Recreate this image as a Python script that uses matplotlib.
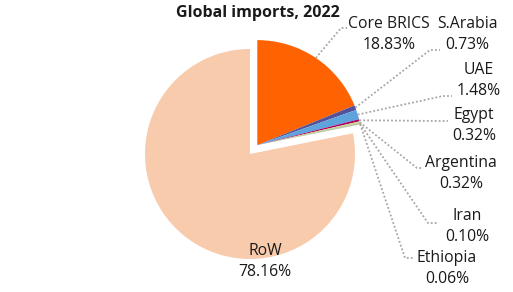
import matplotlib
matplotlib.use("Agg")
import matplotlib.pyplot as plt
import numpy as np

labels = ["Core BRICS", "S.Arabia", "UAE", "Egypt", "Argentina", "Iran", "Ethiopia", "RoW"]
shares = [18.83, 0.73, 1.48, 0.32, 0.32, 0.10, 0.06, 78.16]
colors = ["#FF6200", "#525199", "#5FA3DD", "#AB0066", "#C8D48C", "#9A9A9A", "#A8D08D", "#F8CBAD"]
title = "Global imports, 2022"

W, H = 513, 292
fig = plt.figure(figsize=(W / 100, H / 100), dpi=100)
ax = fig.add_axes([0, 0, 1, 1])
FONT = ["Open Sans", "DejaVu Sans"]

def Y(py):
    return H - py

center = (250, Y(154))
radius = 105
wedges, _ = ax.pie(shares, colors=colors, startangle=90, counterclock=False,
                   radius=radius, center=center, wedgeprops=dict(linewidth=0))

# explode the group (all but RoW) together
grp = sum(shares[:-1])
mid = np.deg2rad(90 - 360 * grp / 100 / 2)
dist = 11.5
dx, dy = dist * np.cos(mid), dist * np.sin(mid)
for w in wedges[:-1]:
    w.set_center((center[0] + dx, center[1] + dy))

# label layout: (text center x, first line y, elbow point, end point) in pixels
layout = {
    "Core BRICS": (389, 24, (341, 28), (347, 28)),
    "S.Arabia": (467, 24, (430, 50), (440, 50)),
    "UAE": (479, 70, (443, 96), (452, 96)),
    "Egypt": (474, 115, (440, 121), (448, 121)),
    "Argentina": (461, 163, (417, 168), (422, 168)),
    "Iran": (467, 216, (428, 223), (438, 223)),
    "Ethiopia": (447, 258, (405, 258), (413, 258)),
    "RoW": (265, 251, None, None),
}
txtcol = "#1a1a1a"
FS = 11.3
for w, lab, val in zip(wedges, labels, shares):
    tx, ty, elbow, end = layout[lab]
    ax.text(tx, Y(ty), lab, ha="center", va="center", fontsize=FS,
            family=FONT, color=txtcol)
    ax.text(tx, Y(ty + 21), f"{val:.2f}%", ha="center", va="center",
            fontsize=FS, family=FONT, color=txtcol)
    if elbow is not None:
        a = np.deg2rad((w.theta1 + w.theta2) / 2)
        cx, cy = w.center
        px, py = cx + radius * np.cos(a), cy + radius * np.sin(a)
        ax.plot([px, elbow[0], end[0]], [py, Y(elbow[1]), Y(end[1])],
                color="#A6A6A6", lw=1.3, ls=(0, (1, 1.2)), solid_capstyle="butt")

ax.text(258, Y(13), title, ha="center", va="center", fontsize=11.5,
        fontweight="bold", family=FONT, color="#1a1a1a")

ax.set_xlim(0, W)
ax.set_ylim(0, H)
ax.set_aspect("auto")
ax.axis("off")
fig.savefig("out.png", dpi=100, facecolor="white")
